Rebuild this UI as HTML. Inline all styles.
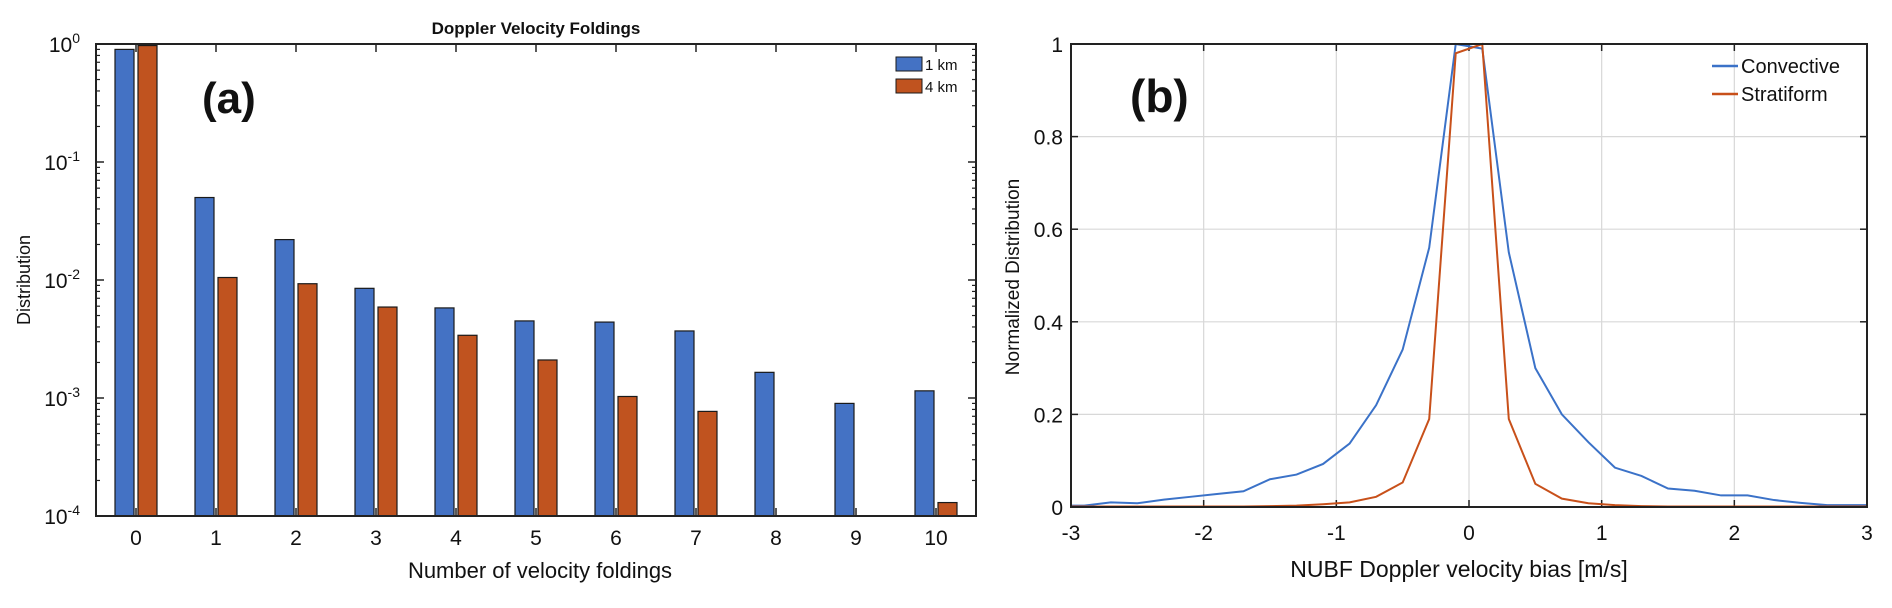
<!DOCTYPE html>
<html><head><meta charset="utf-8"><style>
body{margin:0;background:#fff;width:1892px;height:603px;overflow:hidden}
svg text{font-family:"Liberation Sans",sans-serif;fill:#111}
</style></head><body>
<svg id="fig" width="1892" height="603" viewBox="0 0 1892 603"></svg>
<script>
const categoriesA = [0,1,2,3,4,5,6,7,8,9,10];
const series1km = [0.9,0.05,0.022,0.0085,0.0058,0.0045,0.0044,0.0037,0.00165,0.0009,0.00115];
const series4km = [0.97,0.0105,0.0093,0.0059,0.0034,0.0021,0.00103,0.00077,0,0,0.00013];
const yTickExpA = [0,-1,-2,-3,-4];
const xB = [-2.9,-2.7,-2.5,-2.3,-2.1,-1.9,-1.7,-1.5,-1.3,-1.1,-0.9,-0.7,-0.5,-0.3,-0.1,0.1,0.3,0.5,0.7,0.9,1.1,1.3,1.5,1.7,1.9,2.1,2.3,2.5,2.7,2.9];
const convective = [0.003,0.01,0.008,0.016,0.022,0.028,0.034,0.06,0.07,0.093,0.137,0.22,0.34,0.56,1.0,0.99,0.55,0.30,0.20,0.14,0.085,0.067,0.04,0.035,0.025,0.025,0.015,0.009,0.004,0.004];
const stratiform = [0.001,0.001,0.001,0.001,0.001,0.001,0.001,0.002,0.003,0.006,0.01,0.022,0.053,0.19,0.98,1.0,0.19,0.05,0.018,0.008,0.004,0.002,0.001,0.001,0.001,0.001,0.001,0.001,0.001,0.001];
const xTicksB = [-3,-2,-1,0,1,2,3];
const yTicksB = [0,0.2,0.4,0.6,0.8,1];
const yTickLabB = ['0','0.2','0.4','0.6','0.8','1'];

const NS='http://www.w3.org/2000/svg';
const svg=document.getElementById('fig');
function mk(tag,attrs,parent,txt){const e=document.createElementNS(NS,tag);for(const k in attrs)e.setAttribute(k,attrs[k]);if(txt!==undefined)e.textContent=txt;(parent||svg).appendChild(e);return e;}

// ---- Panel A ----
const AL=96,AR=976,AT=44,AB=516;
const xA=v=>AL+(v+0.5)*(AR-AL)/11;
const yA=v=>AT+(0-Math.log10(v))*(AB-AT)/4;
const gA=mk('g',{});


let t=mk('text',{x:536,y:34,'text-anchor':'middle','font-size':17,'font-weight':'bold'},gA,'Doppler Velocity Foldings');

categoriesA.forEach((c,i)=>{
  const cx=xA(c);
  [[series1km[i],'#4472c4',-11.5,'bar-1km-'+c],[series4km[i],'#c0531f',11.5,'bar-4km-'+c]].forEach(([v,col,off,nm])=>{
    if(v<=0.0001)return;
    const y=yA(v);
    const r=mk('rect',{x:cx+off-9.5,y:y,width:19,height:AB-y,fill:col,stroke:'#1a1a1a','stroke-width':1.2},gA);
    
  });
  mk('line',{x1:cx,x2:cx,y1:AB,y2:AB-8,stroke:'#222','stroke-width':1.5},gA);
  mk('line',{x1:cx,x2:cx,y1:AT,y2:AT+8,stroke:'#222','stroke-width':1.5},gA);
  const tl=mk('text',{x:cx,y:545,'text-anchor':'middle','font-size':21},gA,String(c));
  
});
mk('rect',{x:AL,y:AT,width:AR-AL,height:AB-AT,fill:'none',stroke:'#222','stroke-width':2},gA);
yTickExpA.forEach(e=>{
  const y=yA(Math.pow(10,e));
  mk('line',{x1:AL,x2:AL+8,y1:y,y2:y,stroke:'#222','stroke-width':1.5},gA);
  mk('line',{x1:AR,x2:AR-8,y1:y,y2:y,stroke:'#222','stroke-width':1.5},gA);
  if(e>-4)for(let m=2;m<=9;m++){const ym=yA(m*Math.pow(10,e-1));
    mk('line',{x1:AL,x2:AL+4,y1:ym,y2:ym,stroke:'#222','stroke-width':1.2},gA);
    mk('line',{x1:AR,x2:AR-4,y1:ym,y2:ym,stroke:'#222','stroke-width':1.2},gA);}
  const tl=mk('text',{x:80,y:y+8,'text-anchor':'end','font-size':21},gA,'10');
  mk('tspan',{'font-size':14,dy:-9},tl,String(e));
  
});
t=mk('text',{x:0,y:0,'text-anchor':'middle','font-size':18,transform:'translate(30,280) rotate(-90)'},gA,'Distribution');

t=mk('text',{x:540,y:578,'text-anchor':'middle','font-size':22},gA,'Number of velocity foldings');

t=mk('text',{x:202,y:113,'font-size':44,'font-weight':'bold'},gA,'(a)');

const legA=mk('g',{},gA);

[['#4472c4','1 km',57],['#c0531f','4 km',79]].forEach(([c,l,y])=>{
  mk('rect',{x:896,y:y,width:26,height:14,fill:c,stroke:'#1a1a1a','stroke-width':1},legA);
  const lt=mk('text',{x:925,y:y+13,'font-size':15},legA,l);
  
});

// ---- Panel B ----
const BL=1071,BR=1867,BT=44,BB=507;
const xBf=v=>BL+(v+3)*(BR-BL)/6;
const yBf=v=>BB-v*(BB-BT);
const gB=mk('g',{});

xTicksB.forEach(v=>{const x=xBf(v);
  mk('line',{x1:x,x2:x,y1:BT,y2:BB,stroke:'#d8d8d8','stroke-width':1.2},gB);
  mk('line',{x1:x,x2:x,y1:BB,y2:BB-7,stroke:'#222','stroke-width':1.5},gB);
  mk('line',{x1:x,x2:x,y1:BT,y2:BT+7,stroke:'#222','stroke-width':1.5},gB);
  const tl=mk('text',{x:x,y:540,'text-anchor':'middle','font-size':21},gB,String(v));
  
});
yTicksB.forEach((v,i)=>{const y=yBf(v);
  mk('line',{x1:BL,x2:BR,y1:y,y2:y,stroke:'#d8d8d8','stroke-width':1.2},gB);
  mk('line',{x1:BL,x2:BL+7,y1:y,y2:y,stroke:'#222','stroke-width':1.5},gB);
  mk('line',{x1:BR,x2:BR-7,y1:y,y2:y,stroke:'#222','stroke-width':1.5},gB);
  const tl=mk('text',{x:1063,y:y+8,'text-anchor':'end','font-size':21},gB,yTickLabB[i]);
  
});
function line(xs,ys,col,nm){
  const pts=[[xBf(-3),yBf(ys[0])]].concat(xs.map((x,i)=>[xBf(x),yBf(ys[i])])).concat([[xBf(3),yBf(ys[ys.length-1])]]);
  const p=mk('polyline',{points:pts.map(p=>p.join(',')).join(' '),fill:'none',stroke:col,'stroke-width':2},gB);
  
}
line(xB,convective,'#3b72c8','convective-line');
line(xB,stratiform,'#c8501a','stratiform-line');
mk('rect',{x:BL,y:BT,width:BR-BL,height:BB-BT,fill:'none',stroke:'#222','stroke-width':2},gB);
t=mk('text',{x:0,y:0,'text-anchor':'middle','font-size':19,transform:'translate(1019,277) rotate(-90)'},gB,'Normalized Distribution');

t=mk('text',{x:1459,y:577,'text-anchor':'middle','font-size':23},gB,'NUBF Doppler velocity bias [m/s]');

t=mk('text',{x:1130,y:112,'font-size':46,'font-weight':'bold'},gB,'(b)');

const legB=mk('g',{},gB);

[['#3b72c8','Convective',66],['#c8501a','Stratiform',94]].forEach(([c,l,y])=>{
  mk('line',{x1:1712,x2:1738,y1:y,y2:y,stroke:c,'stroke-width':2.5},legB);
  const lt=mk('text',{x:1741,y:y+7,'font-size':20},legB,l);
  
});
</script>
</body></html>
